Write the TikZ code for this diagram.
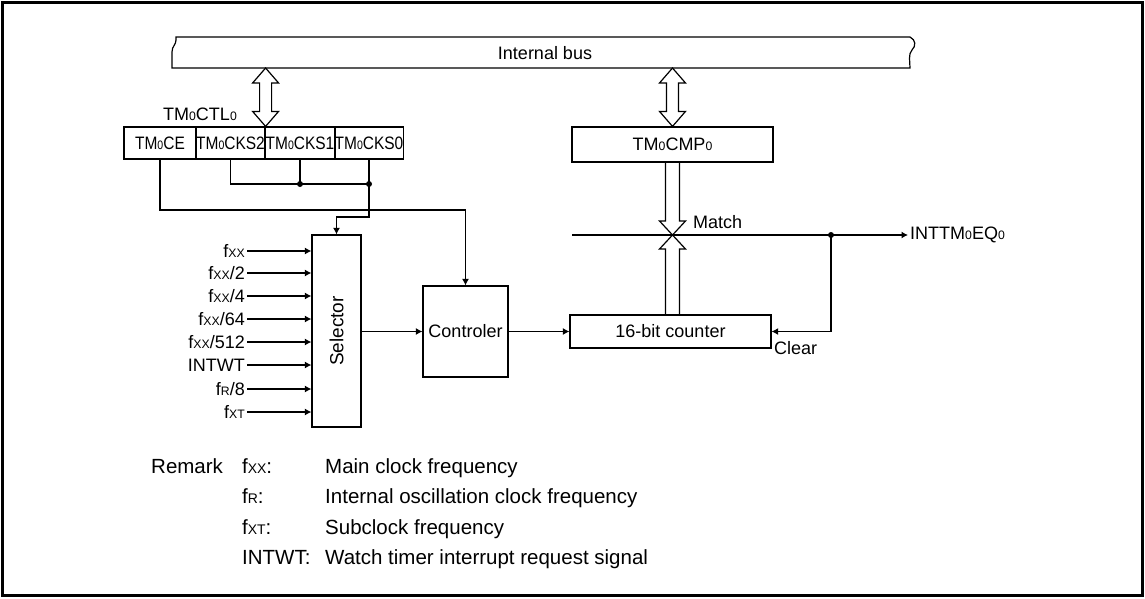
\documentclass[tikz,border=0pt]{standalone}
\usepackage{fontspec}
\setmainfont{Liberation Sans}
\usetikzlibrary{arrows.meta,calc}
\newcommand\lo[1]{\scalebox{0.68}{#1}}
\newcommand\rg[1]{\scalebox{0.86}[1]{#1}}
\newcommand\hollowdbl[2]{%
  \draw[wire,fill=white,line join=miter] let \p1=(#1), \p2=(#2) in
    (\p1) -- (\x1+13pt,\y1-15pt) -- (\x1+6pt,\y1-15pt) -- (\x1+6pt,\y2+15pt)
    -- (\x1+13pt,\y2+15pt) -- (\x1,\y2) -- (\x1-13pt,\y2+15pt) -- (\x1-6pt,\y2+15pt)
    -- (\x1-6pt,\y1-15pt) -- (\x1-13pt,\y1-15pt) -- cycle;}
\begin{document}
\begin{tikzpicture}[x=1pt,y=-1pt,
  font=\fontsize{18}{20}\selectfont,
  box/.style={draw, line width=1.2pt, inner sep=0pt},
  wire/.style={line width=1.2pt},
  arr/.style={wire, -{Latex[length=6.5pt,width=7pt]}},
  jdot/.style={circle, fill, inner sep=0pt, minimum size=6pt},
  lbl/.style={inner sep=2pt},
  rem/.style={anchor=base west, inner sep=0pt, font=\fontsize{20.5}{22}\selectfont}]
\useasboundingbox (0,0) rectangle (1145,598);
\draw[line width=3pt] (2.5,2.5) rectangle (1142.5,595.5);

% internal bus
\draw[wire] (176,37) -- (910,37) .. controls (916,40) and (916,46) .. (912,50)
  .. controls (908,54) and (910,62) .. (910,68) -- (172,68) -- (172,52)
  .. controls (172,46) and (176,45) .. (176,40) -- cycle;
\node (bus) at (545,53) {Internal bus};
\coordinate (busb) at (0,68);

% register TM0CTL0
\node[box, minimum width=72pt, minimum height=32pt] (ce)   at (160,143)   {\rg{TM\lo{0}CE}};
\node[box, minimum width=69pt, minimum height=32pt] (cks2) at (230.5,143) {\rg{TM\lo{0}CKS2}};
\node[box, minimum width=70pt, minimum height=32pt] (cks1) at (300,143)   {\rg{TM\lo{0}CKS1}};
\node[box, minimum width=68pt, minimum height=32pt] (cks0) at (369,143)   {\rg{TM\lo{0}CKS0}};
\node[lbl] (ctl) at (200,114) {TM\lo{0}CTL\lo{0}};

% compare register
\node[box, minimum width=201pt, minimum height=35pt] (cmp) at (672.5,144.5) {TM\lo{0}CMP\lo{0}};

% bus connections
\coordinate (r1) at ($(cks2.north east)$);
\coordinate (r1t) at (r1 |- busb);
\hollowdbl{r1t}{r1}
\coordinate (c1) at (cmp.north);
\coordinate (c1t) at (c1 |- busb);
\hollowdbl{c1t}{c1}

% selector, controller, counter
\node[box, minimum width=49pt, minimum height=192pt] (sel) at (336.5,331) {};
\node[rotate=90, font=\fontsize{19}{20}\selectfont] at (sel.center) {Selector};
\node[box, minimum width=85pt, minimum height=91pt] (ctrl) at (465.5,331.5) {Controler};
\node[box, minimum width=201pt, minimum height=33pt] (cnt) at (670.5,331.5) {16-bit counter};

% control wires
\coordinate (j1) at (cks1.south |- 0,184);
\coordinate (j0) at (cks0.south |- 0,184);
\coordinate (k) at (0,217);
\coordinate (m) at (0,210);
\draw[wire] (cks2.south) |- (j0);
\draw[wire] (cks1.south) -- (j1);
\draw[arr] (cks0.south) -- (cks0.south |- k) -| (sel.north);
\draw[arr] (ce.south) -- (ce.south |- m) -| (ctrl.north);
\node[jdot] at (j1) {};
\node[jdot] at (j0) {};

% selector inputs
\foreach \n/\y/\t in {1/251/{f\lo{XX}}, 2/273/{f\lo{XX}/2}, 3/296/{f\lo{XX}/4},
    4/319/{f\lo{XX}/64}, 5/342/{f\lo{XX}/512}, 6/365/{INTWT}, 7/389/{f\lo{R}/8}, 8/412/{f\lo{XT}}} {
  \node[lbl, anchor=base east] (in\n) at (247,\y+6.5) {\t};
  \draw[arr] (in\n.east |- 0,\y) -- (sel.west |- 0,\y);
}

\draw[arr] (sel.east |- ctrl.west) -- (ctrl.west);
\draw[arr] (ctrl.east) -- (cnt.west);

% match line and output
\coordinate (ms) at (572,235);
\coordinate (jd) at (831,235);
\node[lbl, anchor=west] (out) at (908,235) {INTTM\lo{0}EQ\lo{0}};
\draw[wire] (ms) -- (jd);
\draw[arr] (jd) -- (out.west);
\node[jdot] at (jd) {};
\draw[arr] (jd) |- (cnt.east);
\node[lbl, anchor=north west] (clr) at (772,339) {Clear};
\node[lbl, anchor=west] (match) at (691,222) {Match};

% compare arrows meeting at match line
\coordinate (mx) at (cmp.south |- ms);
\draw[wire, line join=miter] let \p1=(cmp.south), \p2=(mx) in
  (\x1-7pt,\y1) -- (\x1-7pt,\y2+14pt) -- (\x1-13pt,\y2+14pt) -- (\p2)
  -- (\x1+13pt,\y2+14pt) -- (\x1+7pt,\y2+14pt) -- (\x1+7pt,\y1);
\draw[wire, line join=miter] let \p1=(cnt.north -| mx), \p2=(mx) in
  (\x1-7pt,\y1) -- (\x1-7pt,\y2-14pt) -- (\x1-13pt,\y2-14pt) -- (\p2)
  -- (\x1+13pt,\y2-14pt) -- (\x1+7pt,\y2-14pt) -- (\x1+7pt,\y1);

% remark
\node[rem] (rk) at (151,473) {Remark};
\node[rem] (a1) at (242,473) {f\lo{XX}:};
\node[rem] (b1) at (325,473) {Main clock frequency};
\node[rem] (a2) at (242,503) {f\lo{R}:};
\node[rem] (b2) at (325,503) {Internal oscillation clock frequency};
\node[rem] (a3) at (242,534) {f\lo{XT}:};
\node[rem] (b3) at (325,534) {Subclock frequency};
\node[rem] (a4) at (242,564) {INTWT:};
\node[rem] (b4) at (325,564) {Watch timer interrupt request signal};
\end{tikzpicture}
\end{document}
